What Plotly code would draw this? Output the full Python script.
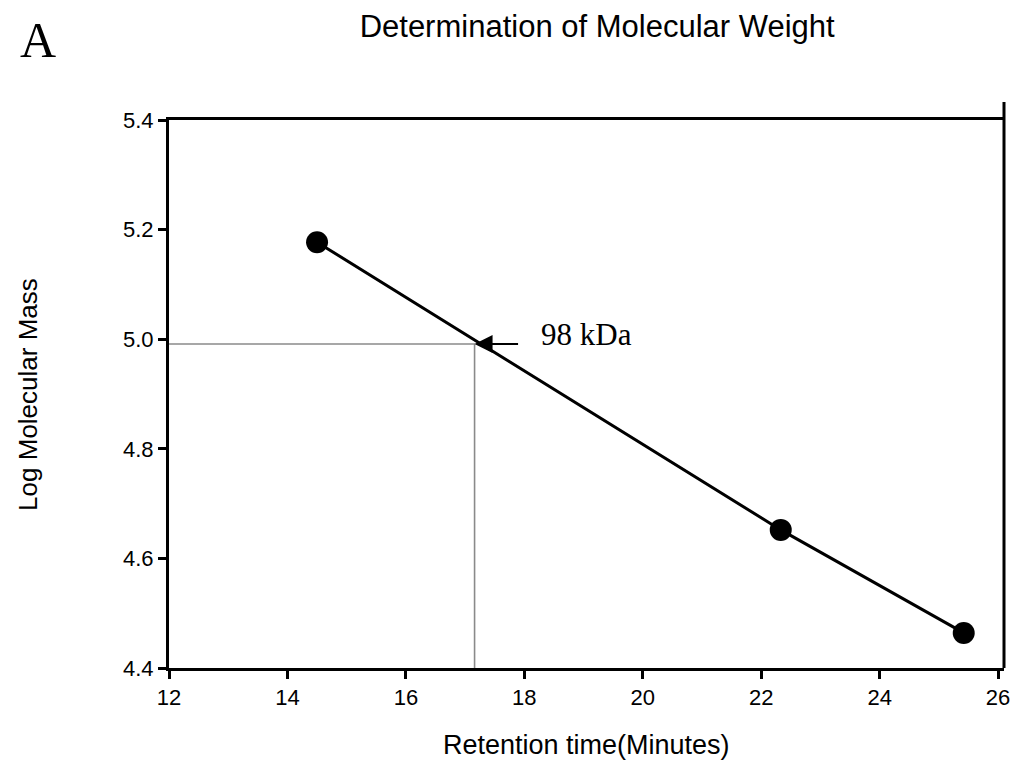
import numpy as np
import plotly.graph_objects as go

# Calibration standards: retention time (min) vs log10 molecular mass
retention_min = [14.5, 22.33, 25.42]
log_mass = [5.177, 4.652, 4.464]

# Unknown protein
unknown_kda = 98
unknown_rt = 17.16
unknown_log = float(np.log10(unknown_kda * 1000))

x_ticks = [12, 14, 16, 18, 20, 22, 24, 26]
y_ticks = [4.4, 4.6, 4.8, 5.0, 5.2, 5.4]
y_tick_text = ["4.4", "4.6", "4.8", "5.0", "5.2", "5.4"]

SANS = "Liberation Sans, Arial, sans-serif"
SERIF = "Liberation Serif, Times New Roman, serif"

fig = go.Figure()

# Reference crosshair for the unknown
fig.add_trace(go.Scatter(
    x=[x_ticks[0], unknown_rt, unknown_rt],
    y=[unknown_log, unknown_log, y_ticks[0]],
    mode="lines", line=dict(color="#8a8a8a", width=1.6),
    hoverinfo="skip", showlegend=False,
))

# Calibration curve with standards
fig.add_trace(go.Scatter(
    x=retention_min, y=log_mass,
    mode="lines+markers",
    line=dict(color="black", width=3),
    marker=dict(color="black", size=22, symbol="circle"),
    showlegend=False,
))

fig.update_layout(
    width=1019, height=760,
    margin=dict(l=169, r=9, t=120, b=92),
    paper_bgcolor="white", plot_bgcolor="white",
    title=dict(text="Determination of Molecular Weight",
               x=0.586, xanchor="center", y=0.965, yanchor="middle",
               font=dict(family=SANS, size=31, color="black")),
    xaxis=dict(range=[12, 26.1], tickvals=x_ticks,
               showgrid=False, zeroline=False,
               showline=True, linecolor="black", linewidth=3, mirror=True,
               ticks="outside", ticklen=8, tickwidth=2.5, tickcolor="black",
               tickfont=dict(family=SANS, size=22, color="black")),
    yaxis=dict(range=[4.4, 5.4], tickvals=y_ticks, ticktext=y_tick_text,
               showgrid=False, zeroline=False,
               showline=True, linecolor="black", linewidth=3,
               ticks="outside", ticklen=8, tickwidth=2.5, tickcolor="black",
               tickfont=dict(family=SANS, size=22, color="black")),
    shapes=[dict(type="line", xref="paper", yref="paper",
                 x0=1, x1=1, y0=0, y1=1.033,
                 line=dict(color="black", width=3))],
    annotations=[
        dict(x=unknown_rt, y=unknown_log, xref="x", yref="y",
             ax=45, ay=0, axref="pixel", ayref="pixel",
             showarrow=True, arrowhead=2, arrowsize=2, arrowwidth=1.8,
             arrowcolor="black", standoff=0, text=""),
        dict(x=18.25, y=unknown_log, xref="x", yref="y",
             xanchor="left", yanchor="middle", yshift=10,
             text=f"{unknown_kda} kDa", showarrow=False,
             font=dict(family=SERIF, size=31, color="black")),
        dict(x=0.5, y=-0.14, xref="paper", yref="paper",
             xanchor="center", yanchor="middle",
             text="Retention time(Minutes)", showarrow=False,
             font=dict(family=SANS, size=27, color="black")),
        dict(x=-0.169, y=0.5, xref="paper", yref="paper",
             xanchor="center", yanchor="middle", textangle=-90,
             text="Log Molecular Mass", showarrow=False,
             font=dict(family=SANS, size=26, color="black")),
        dict(x=-0.181, y=1.146, xref="paper", yref="paper",
             xanchor="left", yanchor="middle",
             text="A", showarrow=False,
             font=dict(family=SERIF, size=50, color="black")),
    ],
)

fig.write_html("out.html")
